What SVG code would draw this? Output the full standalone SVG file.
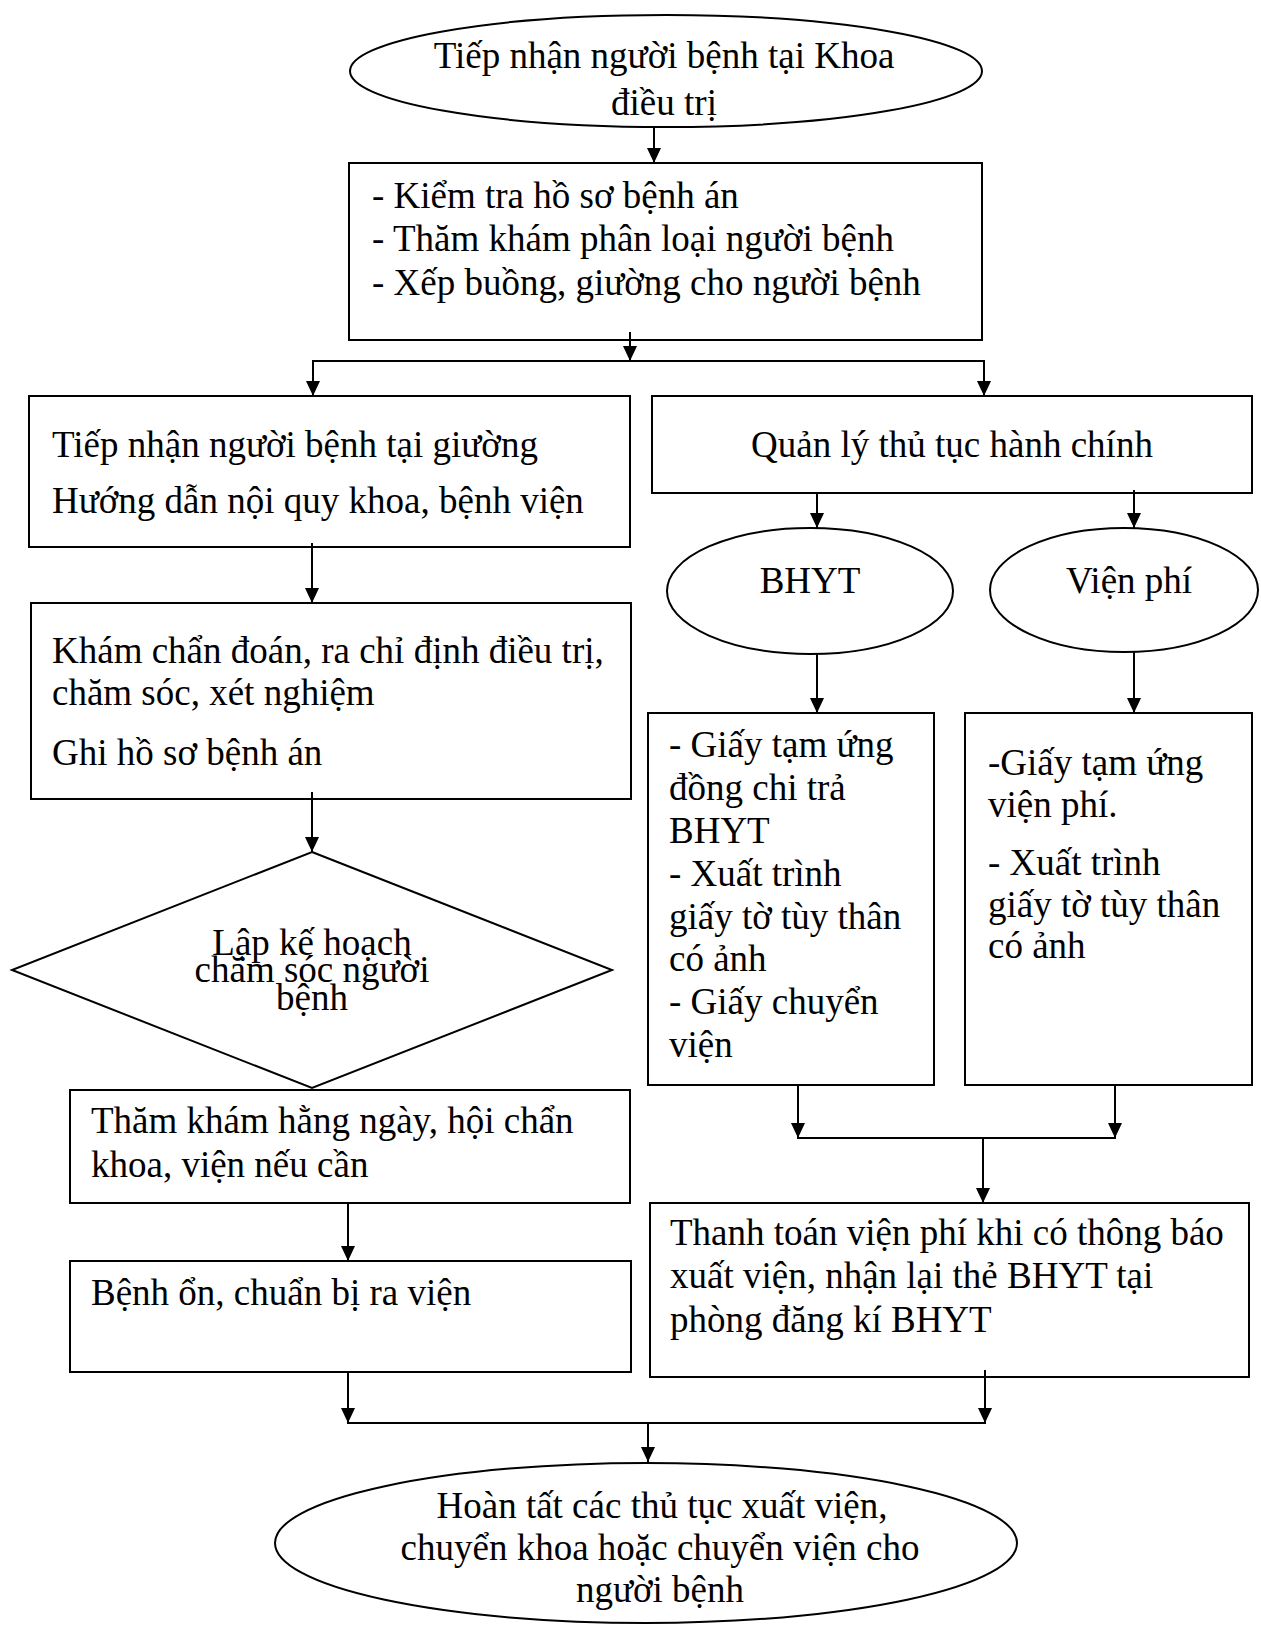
<svg xmlns="http://www.w3.org/2000/svg" width="1261" height="1625" viewBox="0 0 1261 1625">
<style>
  .shape { fill: #fff; stroke: #000; stroke-width: 2; }
  .t { font-family: "Liberation Serif", "Times New Roman", serif; font-size: 37px; fill: #000; }
  .c { text-anchor: middle; }
  .conn line { stroke: #000; stroke-width: 2; }
</style>
<defs>
  <marker id="arr" markerUnits="userSpaceOnUse" markerWidth="16" markerHeight="16" refX="15" refY="7" orient="auto">
    <path d="M0,0 L15,7 L0,14 z" fill="#000"/>
  </marker>
</defs>
<rect width="1261" height="1625" fill="#fff"/>

<g id="n1">
  <ellipse class="shape" cx="666" cy="71" rx="316" ry="56"/>
  <text class="t c" x="664" y="68">Tiếp nhận người bệnh tại Khoa</text>
  <text class="t c" x="664" y="115">điều trị</text>
</g>
<g id="n2">
  <rect class="shape" x="349" y="163" width="633" height="177"/>
  <text class="t" x="372" y="208">- Kiểm tra hồ sơ bệnh án</text>
  <text class="t" x="372" y="251">- Thăm khám phân loại người bệnh</text>
  <text class="t" x="372" y="295">- Xếp buồng, giường cho người bệnh</text>
</g>
<g id="n3">
  <rect class="shape" x="29" y="396" width="601" height="151"/>
  <text class="t" x="52" y="457">Tiếp nhận người bệnh tại giường</text>
  <text class="t" x="52" y="513">Hướng dẫn nội quy khoa, bệnh viện</text>
</g>
<g id="n4">
  <rect class="shape" x="652" y="396" width="600" height="97"/>
  <text class="t c" x="952" y="457">Quản lý thủ tục hành chính</text>
</g>
<g id="n5">
  <rect class="shape" x="31" y="603" width="600" height="196"/>
  <text class="t" x="52" y="663">Khám chẩn đoán, ra chỉ định điều trị,</text>
  <text class="t" x="52" y="705">chăm sóc, xét nghiệm</text>
  <text class="t" x="52" y="765">Ghi hồ sơ bệnh án</text>
</g>
<g id="n6">
  <ellipse class="shape" cx="810" cy="591" rx="143" ry="63"/>
  <text class="t c" x="810" y="593">BHYT</text>
</g>
<g id="n7">
  <ellipse class="shape" cx="1124" cy="590" rx="134" ry="62"/>
  <text class="t c" x="1129" y="593">Viện phí</text>
</g>
<g id="n8">
  <rect class="shape" x="648" y="713" width="286" height="372"/>
  <text class="t" x="669" y="757">- Giấy tạm ứng</text>
  <text class="t" x="669" y="800">đồng chi trả</text>
  <text class="t" x="669" y="843">BHYT</text>
  <text class="t" x="669" y="886">- Xuất trình</text>
  <text class="t" x="669" y="929">giấy tờ tùy thân</text>
  <text class="t" x="669" y="971">có ảnh</text>
  <text class="t" x="669" y="1014">- Giấy chuyển</text>
  <text class="t" x="669" y="1057">viện</text>
</g>
<g id="n9">
  <rect class="shape" x="965" y="713" width="287" height="372"/>
  <text class="t" x="988" y="775">-Giấy tạm ứng</text>
  <text class="t" x="988" y="817">viện phí.</text>
  <text class="t" x="988" y="875">- Xuất trình</text>
  <text class="t" x="988" y="917">giấy tờ tùy thân</text>
  <text class="t" x="988" y="958">có ảnh</text>
</g>
<g id="n10">
  <polygon class="shape" points="312,852 612,970 312,1088 12,970"/>
  <text class="t c" x="312" y="955">Lập kế hoạch</text>
  <text class="t c" x="312" y="982">chăm sóc người</text>
  <text class="t c" x="312" y="1010">bệnh</text>
</g>
<g id="n11">
  <rect class="shape" x="70" y="1090" width="560" height="113"/>
  <text class="t" x="91" y="1133">Thăm khám hằng ngày, hội chẩn</text>
  <text class="t" x="91" y="1177">khoa, viện nếu cần</text>
</g>
<g id="n12">
  <rect class="shape" x="650" y="1203" width="599" height="174"/>
  <text class="t" x="670" y="1245">Thanh toán viện phí khi có thông báo</text>
  <text class="t" x="670" y="1288">xuất viện, nhận lại thẻ BHYT tại</text>
  <text class="t" x="670" y="1332">phòng đăng kí BHYT</text>
</g>
<g id="n13">
  <rect class="shape" x="70" y="1261" width="561" height="111"/>
  <text class="t" x="91" y="1305">Bệnh ổn, chuẩn bị ra viện</text>
</g>
<g id="n14">
  <ellipse class="shape" cx="646" cy="1543" rx="371" ry="80"/>
  <text class="t c" x="662" y="1518">Hoàn tất các thủ tục xuất viện,</text>
  <text class="t c" x="660" y="1560">chuyển khoa hoặc chuyển viện cho</text>
  <text class="t c" x="660" y="1602">người bệnh</text>
</g>

<g id="connectors" class="conn">
  <line x1="654" y1="127" x2="654" y2="163" marker-end="url(#arr)"/>
  <line x1="630" y1="332" x2="630" y2="361" marker-end="url(#arr)"/>
  <line x1="312" y1="361" x2="985" y2="361"/>
  <line x1="313" y1="361" x2="313" y2="396" marker-end="url(#arr)"/>
  <line x1="984" y1="361" x2="984" y2="396" marker-end="url(#arr)"/>
  <line x1="312" y1="543" x2="312" y2="603" marker-end="url(#arr)"/>
  <line x1="312" y1="792" x2="312" y2="852" marker-end="url(#arr)"/>
  <line x1="817" y1="493" x2="817" y2="528" marker-end="url(#arr)"/>
  <line x1="1134" y1="490" x2="1134" y2="528" marker-end="url(#arr)"/>
  <line x1="817" y1="654" x2="817" y2="713" marker-end="url(#arr)"/>
  <line x1="1134" y1="652" x2="1134" y2="713" marker-end="url(#arr)"/>
  <line x1="798" y1="1085" x2="798" y2="1138" marker-end="url(#arr)"/>
  <line x1="1115" y1="1085" x2="1115" y2="1138" marker-end="url(#arr)"/>
  <line x1="797" y1="1138" x2="1116" y2="1138"/>
  <line x1="983" y1="1138" x2="983" y2="1203" marker-end="url(#arr)"/>
  <line x1="348" y1="1203" x2="348" y2="1261" marker-end="url(#arr)"/>
  <line x1="348" y1="1372" x2="348" y2="1423" marker-end="url(#arr)"/>
  <line x1="985" y1="1370" x2="985" y2="1423" marker-end="url(#arr)"/>
  <line x1="347" y1="1423" x2="986" y2="1423"/>
  <line x1="648" y1="1423" x2="648" y2="1462" marker-end="url(#arr)"/>
</g>
</svg>
